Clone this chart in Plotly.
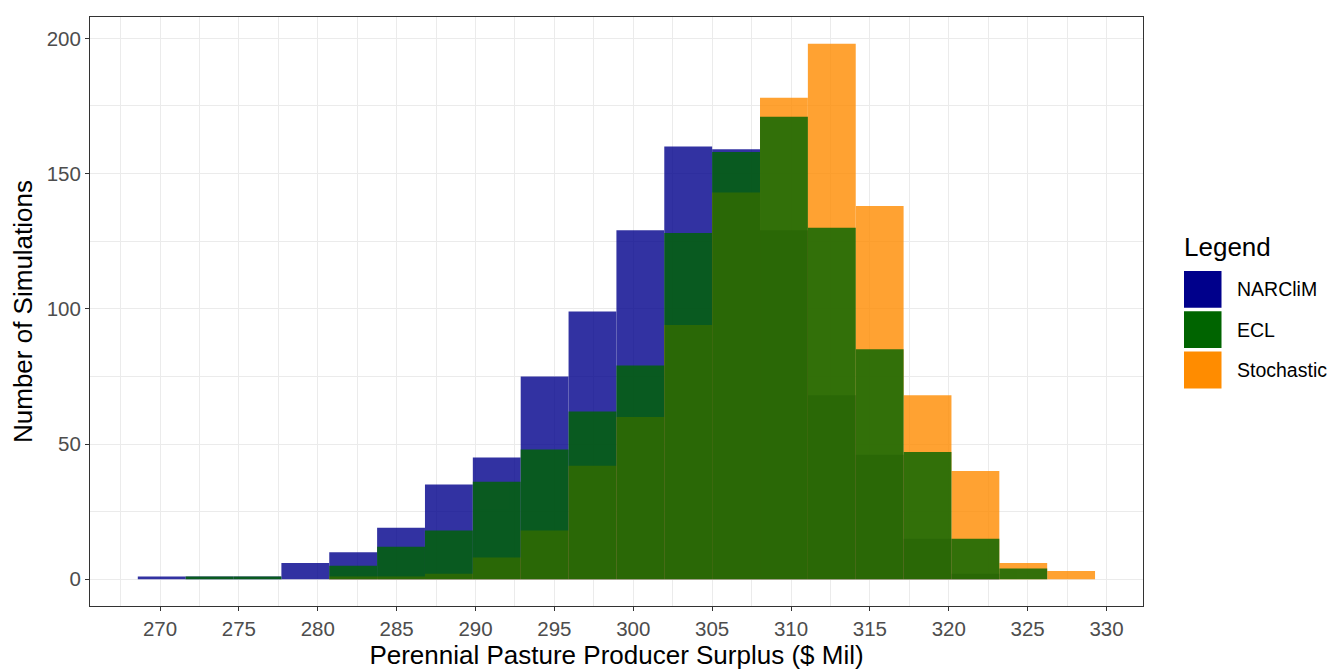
import numpy as np
import plotly.graph_objects as go

# ---- data ----
bin_start = 268.59
bin_width = 3.034
narclim = [1, 1, 1, 6, 10, 19, 35, 45, 75, 99, 129, 160, 159, 129, 68, 46, 15, 2, 0, 0]
ecl = [0, 1, 1, 0, 5, 12, 18, 36, 48, 62, 79, 128, 158, 171, 130, 85, 47, 15, 4, 0]
stochastic = [0, 0, 0, 0, 1, 1, 2, 8, 18, 42, 60, 94, 143, 178, 198, 138, 68, 40, 6, 3]
series_names = ["NARCliM", "ECL", "Stochastic"]
series_colors = ["#00008B", "#006400", "#FF8C00"]
x_ticks = list(range(270, 331, 5))
y_ticks = [0, 50, 100, 150, 200]

centers = bin_start + bin_width * (np.arange(len(narclim)) + 0.5)

OFF = 8  # page body margin of the browser
W, H = 1335 - OFF, 671 - OFF
# panel edges in screen pixels of the reference
PL, PR, PT, PB = 90, 1143, 15.5, 607
L, T = PL - OFF, PT - OFF
R, B = W - (PR - OFF), H - (PB - OFF)
FONT = "Liberation Sans, Arial, sans-serif"

fig = go.Figure()
data_map = {"NARCliM": narclim, "ECL": ecl, "Stochastic": stochastic}
color_map = dict(zip(series_names, series_colors))
for name in ["NARCliM", "Stochastic", "ECL"]:
    fig.add_trace(go.Bar(
        x=centers, y=data_map[name], width=bin_width, name=name,
        marker=dict(color=color_map[name], line=dict(width=0)),
        opacity=0.8, showlegend=False,
    ))

fig.update_layout(
    width=W, height=H, barmode="overlay",
    margin=dict(l=L, r=R, t=T, b=B),
    paper_bgcolor="white", plot_bgcolor="white",
    font=dict(family=FONT, color="black"),
)
axis_common = dict(
    showline=True, mirror=True, linecolor="#333333", linewidth=1.07,
    ticks="outside", ticklen=4, tickwidth=1.07, tickcolor="#333333",
    showgrid=True, gridcolor="#EBEBEB", gridwidth=1.07, zeroline=False,
    tickfont=dict(family=FONT, size=20.5, color="#4D4D4D"),
)
fig.update_xaxes(
    **axis_common, range=[265.56, 332.31], tickvals=x_ticks,
    minor=dict(tickvals=[t - 2.5 for t in x_ticks] + [x_ticks[-1] + 2.5], showgrid=True,
               gridcolor="#EBEBEB", gridwidth=0.53, ticks=""),
    title=dict(text="Perennial Pasture Producer Surplus ($ Mil)",
               font=dict(family=FONT, size=26, color="black"), standoff=6),
)
fig.update_yaxes(
    **axis_common, range=[-9.9, 207.9], tickvals=y_ticks,
    minor=dict(tickvals=[25, 75, 125, 175], showgrid=True,
               gridcolor="#EBEBEB", gridwidth=0.53, ticks=""),
    title=dict(text="Number of Simulations",
               font=dict(family=FONT, size=26, color="black"), standoff=8),
)

# ---- legend drawn at pixel positions ----
pw = W - L - R
ph = H - T - B
def px(x):
    return (x - OFF - L) / pw
def py(y):
    return 1 - (y - OFF - T) / ph

fig.add_annotation(x=px(1182), y=py(246), xref="paper", yref="paper", text="Legend",
                   showarrow=False, xanchor="left", yanchor="middle",
                   font=dict(family=FONT, size=26, color="black"))
key_tops = [270.5, 311, 351.5]
for name, top in zip(series_names, key_tops):
    fig.add_shape(type="rect", xref="paper", yref="paper",
                  x0=px(1184), x1=px(1221.5), y0=py(top), y1=py(top + 37),
                  fillcolor=color_map[name], line=dict(width=0))
    fig.add_annotation(x=px(1235), y=py(top + 18.5), xref="paper", yref="paper", text=name,
                       showarrow=False, xanchor="left", yanchor="middle",
                       font=dict(family=FONT, size=19.5, color="black"))

fig.write_html("out.html")
